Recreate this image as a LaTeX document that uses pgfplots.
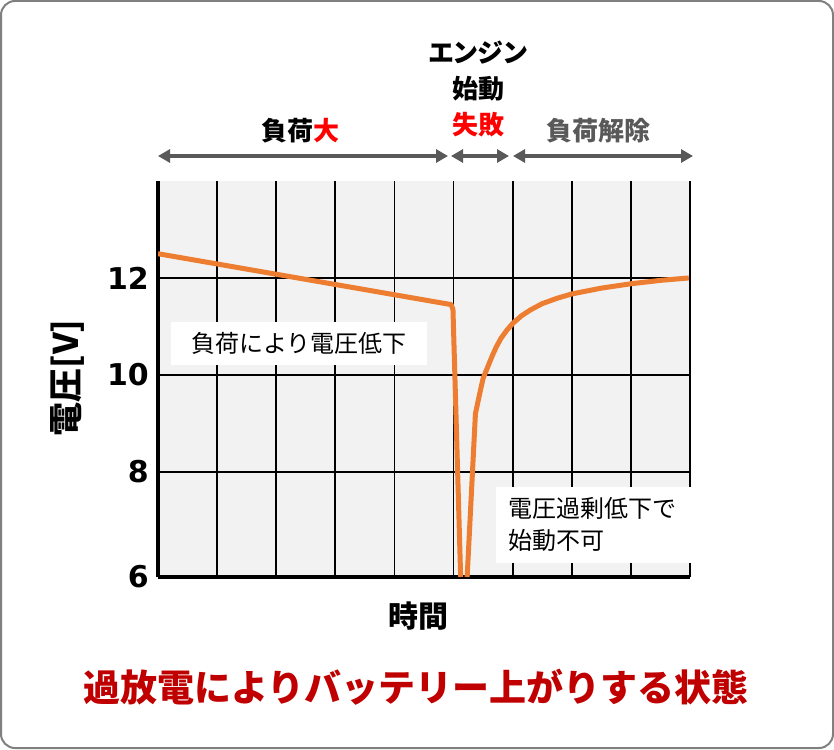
\documentclass[border=0pt]{standalone}
\usepackage{fontspec}
\setmainfont{Noto Sans CJK JP}
\newfontfamily\jpp{Noto Sans CJK JP}[RawFeature=+palt]
\newfontfamily\dvs{DejaVu Sans}
\usepackage{pgfplots}
\pgfplotsset{compat=1.18}
\usetikzlibrary{arrows.meta}
\definecolor{vorange}{HTML}{ED7D31}
\definecolor{agray}{HTML}{595959}
\definecolor{dred}{HTML}{C00000}
\definecolor{bgray}{HTML}{F2F2F2}
\definecolor{bordergray}{HTML}{808080}
\begin{document}
\begin{tikzpicture}[x=1pt,y=-1pt]
\draw[draw=bordergray, line width=2pt, rounded corners=14pt, fill=white] (1,1) rectangle (833,748);
\begin{axis}[at={(158pt,-577pt)}, anchor=south west, scale only axis, width=532pt, height=396pt,
 xmin=0, xmax=9, ymin=5.83, ymax=14,
 axis x line=bottom, axis y line=left, axis line style={-, line width=4pt, black},
 xtick={1,...,9}, xticklabels={}, ytick={5.83,8,10,12}, yticklabels={6,8,10,12},
 major tick length=0pt, grid=major, major grid style={black, line width=1.8pt},
 axis background/.style={fill=bgray},
 yticklabel style={font=\dvs\bfseries\fontsize{30}{30}\selectfont, inner sep=0pt, xshift=-9pt},
 unbounded coords=jump]
\addplot[vorange, line width=5pt, line join=round] coordinates {
(0,12.5) (4.96,11.45) (4.99,11.35) (5.12,5.83) (5.17,nan) (5.23,5.83) (5.37,9.2) (5.44,9.6) (5.5,9.93) (5.58,10.17) (5.65,10.38) (5.72,10.57) (5.8,10.75) (5.9,10.92) (6.0,11.06) (6.15,11.22) (6.3,11.34) (6.5,11.47) (6.75,11.58) (7,11.67) (7.5,11.79) (8,11.88) (8.5,11.95) (8.98,12.0)
};
\end{axis}
% annotation boxes
\node[fill=white, minimum width=256pt, minimum height=43pt, inner sep=0pt, font=\fontsize{24}{24}\selectfont] at (299,343.5) {負荷により電圧低下};
\fill[white] (496,487) rectangle (691,563);
\node[anchor=west, align=left, font=\fontsize{24}{32}\selectfont] at (505,524) {電圧過剰低下で\\始動不可};
% top labels
\node[font=\bfseries\fontsize{26}{26}\selectfont] at (300,131) {負荷\textcolor{red}{大}};
\node[font=\jpp\bfseries\fontsize{26}{26}\selectfont] at (478,53) {エンジン};
\node[font=\bfseries\fontsize{26}{26}\selectfont] at (478,89) {始動};
\node[font=\bfseries\fontsize{26}{26}\selectfont, text=red] at (478,125) {失敗};
\node[font=\bfseries\fontsize{26}{26}\selectfont, text=agray] at (598,131) {負荷解除};
\draw[agray, line width=4pt, {Triangle[length=12pt,width=13pt]}-{Triangle[length=12pt,width=13pt]}] (158,156) -- (448,156);
\draw[agray, line width=4pt, {Triangle[length=12pt,width=13pt]}-{Triangle[length=12pt,width=13pt]}] (451,156) -- (509,156);
\draw[agray, line width=4pt, {Triangle[length=12pt,width=13pt]}-{Triangle[length=12pt,width=13pt]}] (513,156) -- (693,156);
% axis labels
\node[rotate=90, font=\bfseries\fontsize{34}{34}\selectfont] at (67,378) {電圧[V]};
\node[font=\bfseries\fontsize{30}{30}\selectfont] at (418,616) {時間};
\node[text=dred, font=\bfseries\fontsize{37}{37}\selectfont] at (416,687) {過放電によりバッテリー上がりする状態};
\end{tikzpicture}
\end{document}
